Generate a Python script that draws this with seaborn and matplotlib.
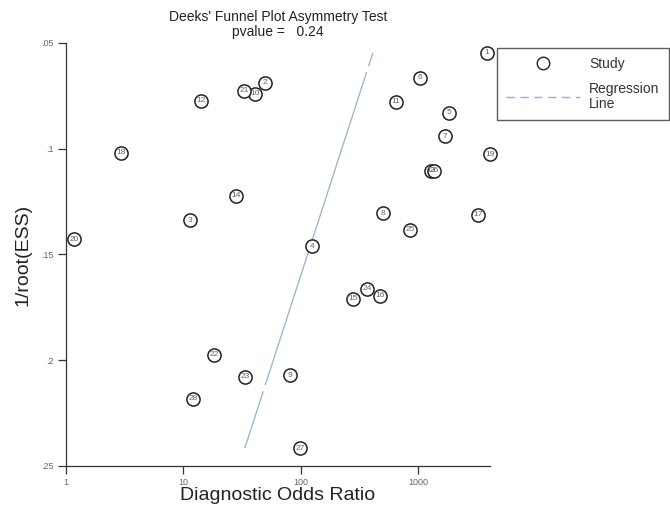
import numpy as np
import pandas as pd
import seaborn as sns
import matplotlib.pyplot as plt
from matplotlib.lines import Line2D

# study id, diagnostic odds ratio, 1/root(ESS)
study_id = list(range(1, 29))
dor = [3882, 49.7, 11.4, 125, 1841, 1042, 1703, 504, 81.2, 40.9,
       651, 14.2, 1293, 28.1, 280, 475, 3253, 2.94, 4118, 1.17,
       32.9, 18.3, 33.6, 368, 857, 1372, 98.8, 12.1]
inv_root_ess = [0.0547, 0.0689, 0.1337, 0.1460, 0.0831, 0.0665, 0.0940, 0.1304, 0.2070, 0.0741,
                0.0779, 0.0774, 0.1105, 0.1223, 0.1710, 0.1696, 0.1313, 0.1020, 0.1025, 0.1427,
                0.0727, 0.1975, 0.2079, 0.1663, 0.1384, 0.1105, 0.2415, 0.2183]

# regression of ln(DOR) on 1/root(ESS)
reg_intercept = 6.76
reg_slope = -13.45
pvalue = 0.24

x_ticks = [1, 10, 100, 1000]
x_ticklabels = ['1', '10', '100', '1000']
y_ticks = [0.05, 0.10, 0.15, 0.20, 0.25]
y_ticklabels = ['.05', '.1', '.15', '.2', '.25']

df = pd.DataFrame({'study': study_id, 'dor': dor, 'ess': inv_root_ess})

sns.set_theme(style='white')
plt.rcParams['font.family'] = ['Liberation Sans', 'DejaVu Sans']
plt.rcParams['lines.scale_dashes'] = False

fig = plt.figure(figsize=(6.7, 5.08), dpi=100)
ax = fig.add_axes([0.0985, 0.0827, 0.6328, 0.8327])

line_color = '#93b1d1'
y_line = np.array([df['ess'].max(), df['ess'].min()])
x_line = np.exp(reg_intercept + reg_slope * y_line)
ax.plot(x_line, y_line, color=line_color, lw=0.9,
        linestyle=(194, (237, 4.5)), zorder=1)

sns.scatterplot(data=df, x='dor', y='ess', ax=ax, s=90, marker='o',
                facecolor='white', edgecolor='#222222', linewidth=1.1,
                clip_on=False, zorder=3, legend=False)
for _, r in df.iterrows():
    ax.text(r['dor'], r['ess'], str(int(r['study'])), ha='center', va='center',
            fontsize=6, color='#666666', zorder=4, clip_on=False)

ax.set_xscale('log')
ax.set_xlim(1, 4121)
ax.set_ylim(0.25, 0.05)
ax.set_xticks(x_ticks)
ax.set_xticklabels(x_ticklabels)
ax.set_yticks(y_ticks)
ax.set_yticklabels(y_ticklabels)
ax.xaxis.set_minor_locator(plt.NullLocator())
ax.tick_params(axis='both', which='major', direction='out', length=6, width=0.9,
               color='#333333', labelsize=6.5, labelcolor='#666666', pad=3,
               bottom=True, left=True)

for side in ['top', 'right']:
    ax.spines[side].set_visible(False)
for side in ['left', 'bottom']:
    ax.spines[side].set_color('#333333')
    ax.spines[side].set_linewidth(0.9)

ax.set_xlabel('Diagnostic Odds Ratio', fontsize=14, color='#222222', labelpad=0)
ax.set_ylabel('1/root(ESS)', fontsize=14, color='#222222', labelpad=7)
ax.set_title("Deeks' Funnel Plot Asymmetry Test\npvalue =   %.2f" % pvalue,
             fontsize=10, color='#222222', linespacing=1.05, pad=5)

handles = [
    Line2D([], [], marker='o', linestyle='none', markersize=9,
           markerfacecolor='white', markeredgecolor='#222222', markeredgewidth=1.0),
    Line2D([], [], color=line_color, lw=1.0, linestyle=(0, (6, 4))),
]
leg = fig.legend(handles, ['Study', 'Regression\nLine'], loc='upper left',
                 bbox_to_anchor=(497 / 670, 1 - 48 / 508), frameon=True,
                 fancybox=False, fontsize=10, handlelength=5.3,
                 handletextpad=0.7, borderpad=0.65, labelspacing=0.8,
                 borderaxespad=0)
leg.get_frame().set_edgecolor('#333333')
leg.get_frame().set_linewidth(1.0)
for t in leg.get_texts():
    t.set_color('#333333')
    t.set_linespacing(1.1)

fig.savefig('out.png', dpi=100)
